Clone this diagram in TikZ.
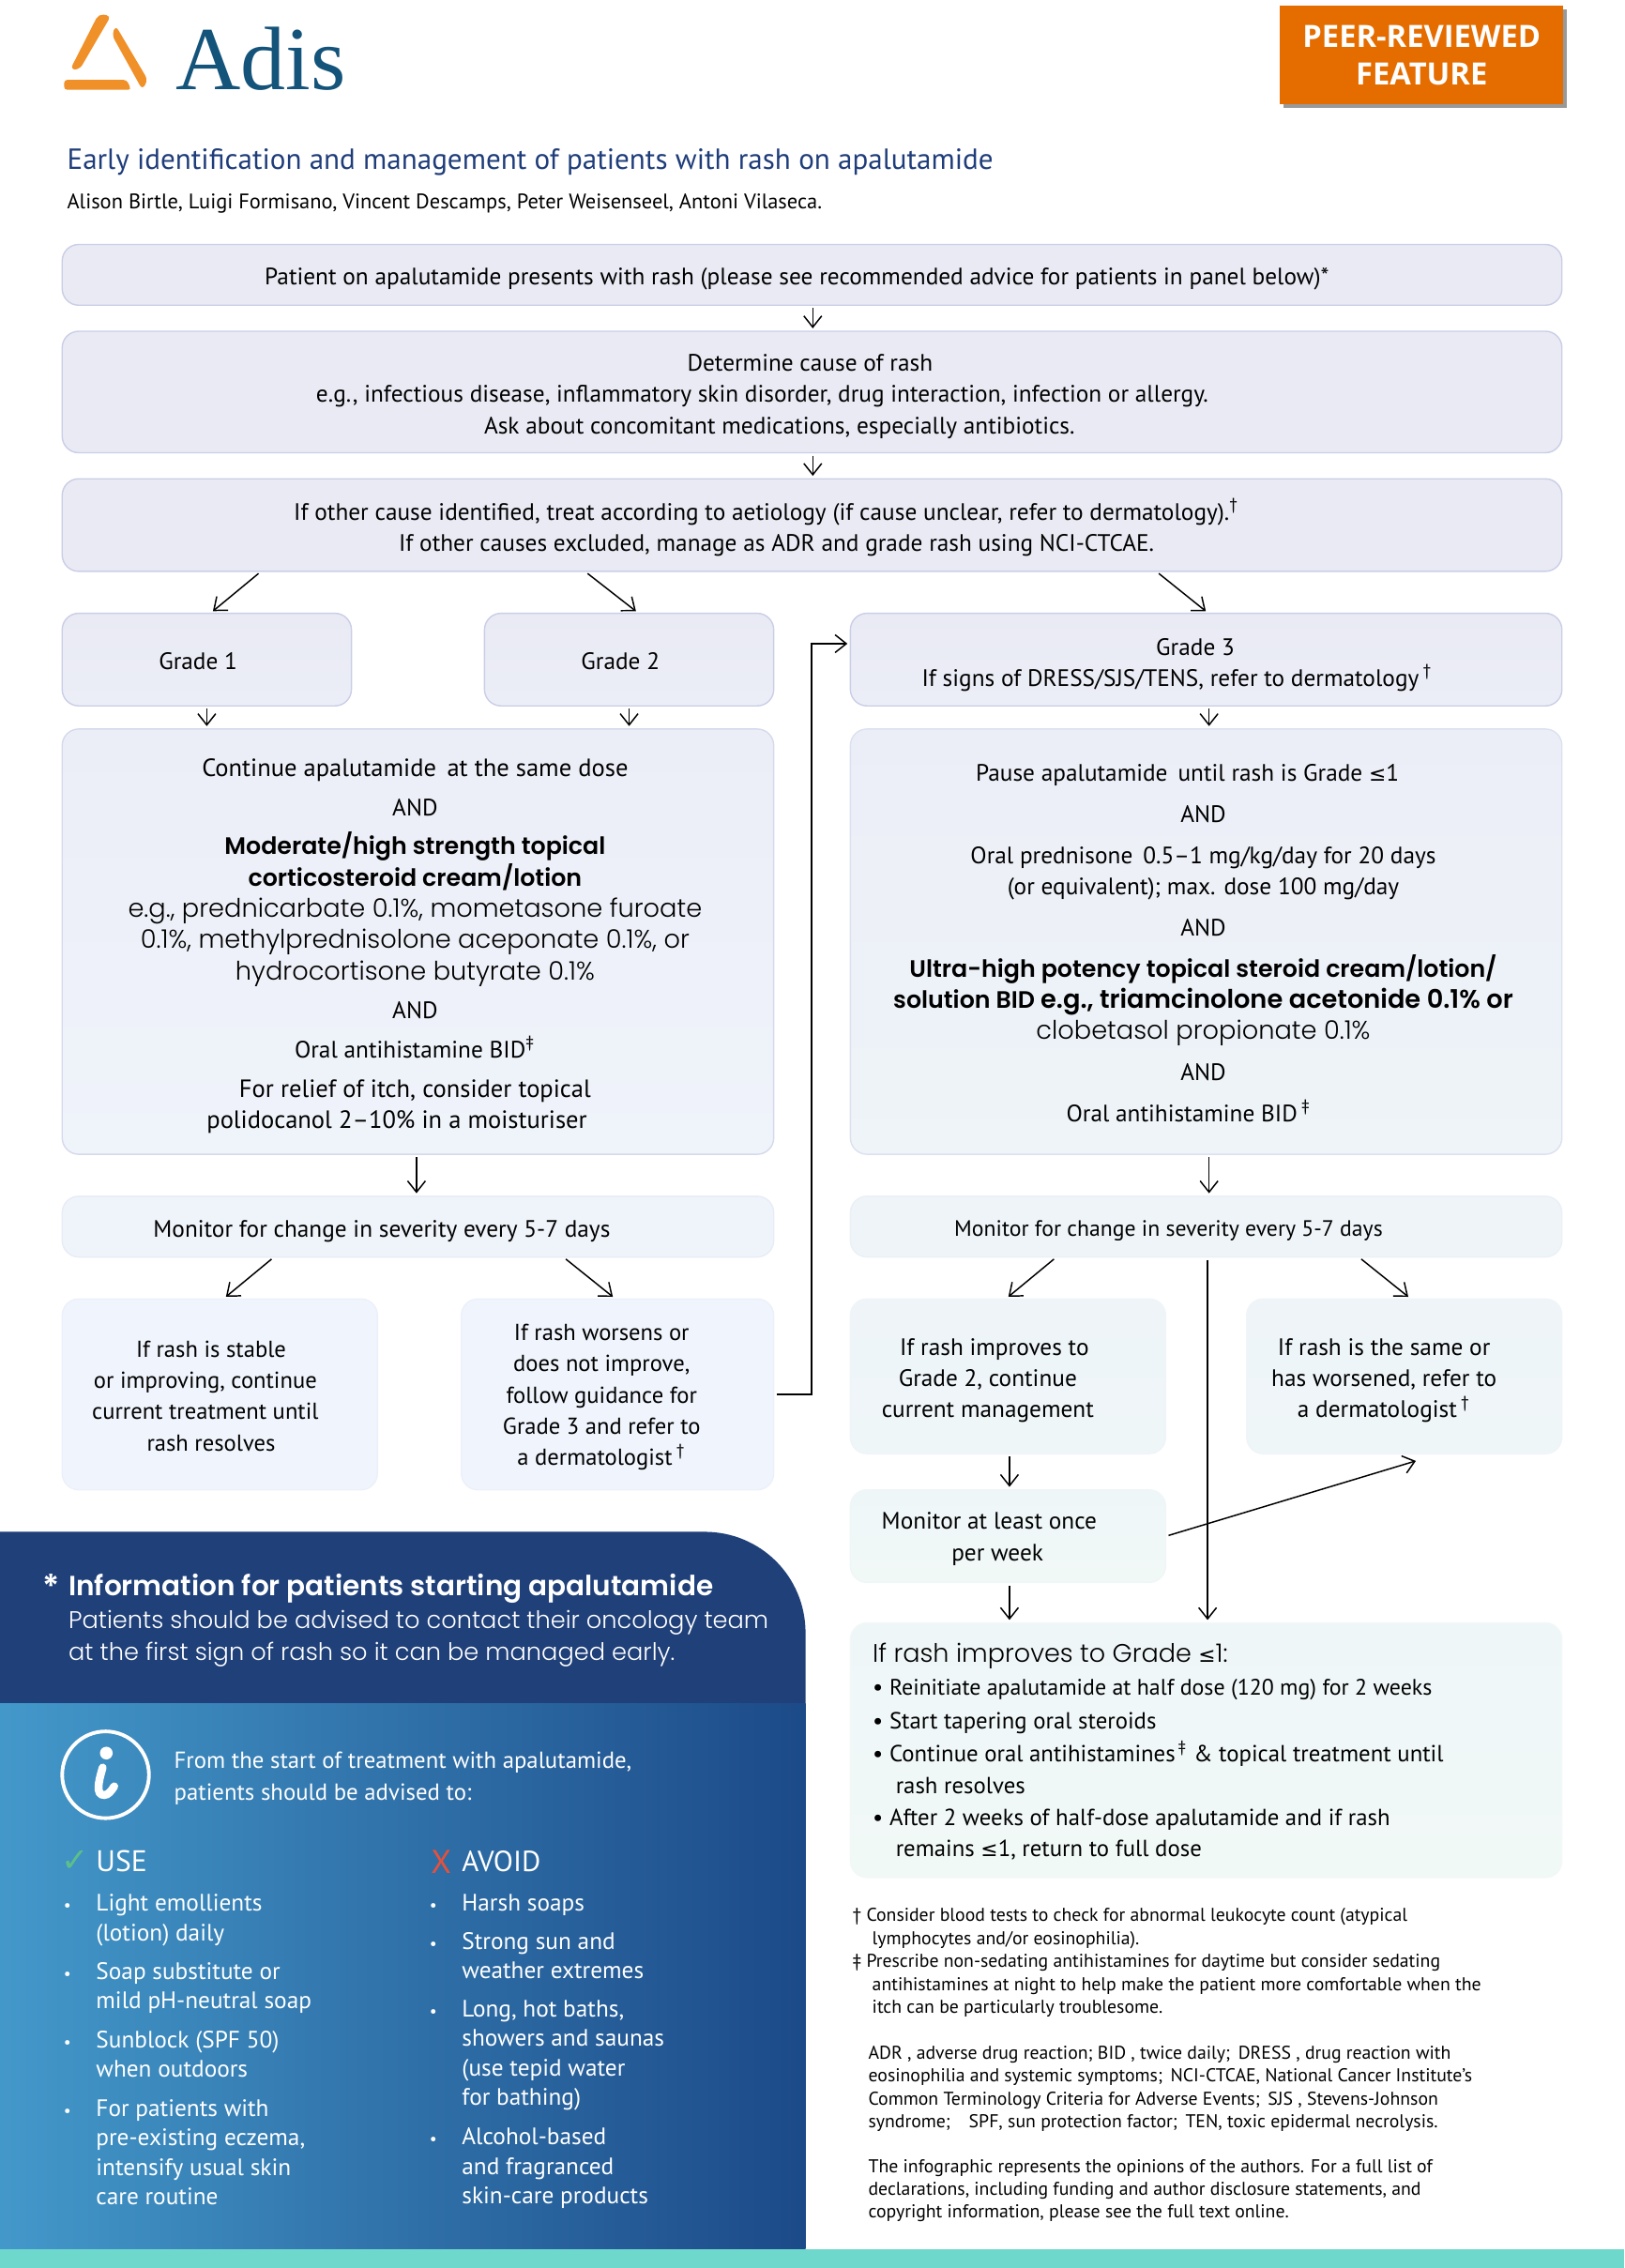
\documentclass[tikz,border=0pt]{standalone}
\usepackage{fontspec}
\setmainfont{PT Sans}
\newfontfamily\geofont{Poppins}[UprightFont=* Light, BoldFont=* SemiBold]
\newfontfamily\peerfont{Open Sans}
\newfontfamily\markfont{DejaVu Sans}
\newfontfamily\adisfont{Liberation Serif}
\usetikzlibrary{arrows.meta,fit,shadows}
\definecolor{adisblue}{HTML}{14537A}
\definecolor{adisorange}{HTML}{F09028}
\definecolor{peerorange}{HTML}{E56D00}
\definecolor{titleblue}{HTML}{1F3D7A}
\definecolor{panelblue}{HTML}{1F4079}
\definecolor{panelleft}{HTML}{4398CA}
\definecolor{panelmid}{HTML}{2F79B0}
\definecolor{panelright}{HTML}{1C4A88}
\definecolor{barteal}{HTML}{6FD8CC}
\definecolor{tickgreen}{HTML}{5CBF8A}
\definecolor{crossred}{HTML}{E8503A}
\definecolor{boxlav}{HTML}{CACEE6}
\definecolor{boxtop}{HTML}{E9EAF4}
\definecolor{boxgrade}{HTML}{ECEEF7}
\definecolor{boxleft}{HTML}{EFF3FA}
\definecolor{boxstable}{HTML}{F0F4FC}
\definecolor{boxsky}{HTML}{EEF4F8}
\definecolor{boxpale}{HTML}{EFF6F8}
\definecolor{boxmint}{HTML}{F1F9F7}
\newcommand{\bodysize}{\fontsize{7.2}{9.47}\selectfont}
\newcommand{\widesize}{\fontsize{7.55}{9.47}\selectfont}
\newcommand{\geobold}{\geofont\bfseries\fontsize{7.2}{9.47}\selectfont}
\newcommand{\geosize}{\geofont\fontsize{7.75}{9.47}\selectfont}
\newcommand{\listdot}{\llap{{\fontsize{5}{5}\selectfont\textbullet}\hspace{7.6pt}}}
\newcommand{\gradele}{{\markfont\fontsize{6.2}{9}\selectfont ≤}}
\tikzset{
    flowbox/.style n args={3}{rounded corners=5pt, draw=#1, line width=0.4pt, top color=#2, bottom color=#3, inner sep=0pt},
    flowtext/.style={align=center, inner sep=0pt, font=\bodysize},
    lefttext/.style={align=left, anchor=west, inner sep=0pt, font=\bodysize},
    footnote/.style={align=left, anchor=west, inner sep=0pt, font=\fontsize{5.62}{6.95}\selectfont},
    listitem/.style={align=left, anchor=west, inner sep=0pt, text=white, font=\fontsize{7.2}{8.95}\selectfont},
    flowarrow/.style={-{Straight Barb[length=3.4pt,width=5.4pt]}, line width=0.42pt, black, shorten >=0.7pt, shorten <=0.7pt}
}
\begin{document}
\begin{tikzpicture}[x=0.015414cm, y=-0.015414cm]
    \useasboundingbox (0,0) rectangle (1123,1568);

    \fill[adisorange, rounded corners=1.5pt] (68.1,9.7) -- (76.8,10.8) -- (55.1,48) -- (48.6,48) -- cycle;
    \fill[adisorange, rounded corners=1.5pt] (80,17.7) -- (102.2,55.2) -- (98.4,62) -- (77.4,24.2) -- cycle;
    \fill[adisorange, rounded corners=1pt] (44.3,55.2) -- (87.6,55.2) -- (90.8,62.1) -- (44.3,62.1) -- cycle;
    \node[anchor=base west, inner sep=0pt, text=adisblue, font=\adisfont\fontsize{27.3}{28}\selectfont] (adis) at (121,62) {Adis};

    \node[fill=peerorange, minimum width=85.9pt, minimum height=29.8pt, align=center, text=white, inner sep=0pt,
        font=\peerfont\bfseries\fontsize{9.3}{11.4}\selectfont, drop shadow={shadow xshift=1.2pt, shadow yshift=-1.2pt, fill=black, opacity=0.4}] (peer) at (983,38) {PEER-REVIEWED\\FEATURE};

    \node[lefttext, text=titleblue, font=\fontsize{8.84}{11}\selectfont] (title) at (46,112) {Early identification and management of patients with rash on apalutamide};
    \node[lefttext, font=\fontsize{6.38}{9}\selectfont] (authors) at (46,141) {Alison Birtle, Luigi Formisano, Vincent Descamps, Peter Weisenseel, Antoni Vilaseca.};

    \node[flowbox={boxlav}{boxtop}{boxtop}, fit={(43,169)(1080,211)}] (patient) {};
    \node[flowtext] (patienttext) at (551,193) {Patient on apalutamide presents with rash (please see recommended advice for patients in panel below)*};
    \node[flowbox={boxlav}{boxtop}{boxtop}, fit={(43,229)(1080,313)}] (cause) {};
    \node[flowtext] (causetext) at (527,274) {\hspace*{29pt}Determine cause of rash\\e.g., infectious disease, inflammatory skin disorder, drug interaction, infection or allergy.\\\hspace*{10.5pt}Ask about concomitant medications, especially antibiotics.};
    \node[flowbox={boxlav}{boxtop}{boxtop}, fit={(43,331)(1080,395)}] (other) {};
    \node[flowtext] (othertext) at (530,364.5) {If other cause identified, treat according to aetiology (if cause unclear, refer to dermatology).\textsuperscript{†}\\\hspace*{6pt}If other causes excluded, manage as ADR and grade rash using NCI-CTCAE.};

    \node[flowbox={boxlav}{boxtop}{boxgrade}, fit={(43,424)(243,488)}] (gradeone) {};
    \node[flowtext] (gradeonetext) at (137,457) {Grade 1};
    \node[flowbox={boxlav}{boxtop}{boxgrade}, fit={(335,424)(535,488)}] (gradetwo) {};
    \node[flowtext] (gradetwotext) at (429,457) {Grade 2};
    \node[flowbox={boxlav}{boxtop}{boxgrade}, fit={(588,424)(1080,488)}] (gradethree) {};
    \node[flowtext] (gradethreetext) at (814,459.5) {\hspace*{11pt}Grade 3\\If signs of DRESS/SJS/TENS, refer to dermatology\,\textsuperscript{†}};

    \node[flowbox={boxlav!70!boxsky}{boxgrade}{boxleft}, fit={(43,504)(535,798)}] (treatleft) {};
    \node[flowtext] (treatlefttext) at (287,654) {{\widesize Continue apalutamide\, at the same dose}\\[2.4pt]
        AND\\[2.4pt]
        {\geobold Moderate/high strength topical}\\
        {\geobold corticosteroid cream/lotion}\\
        {\geosize e.g., prednicarbate 0.1\%, mometasone furoate}\\
        {\geosize 0.1\%, methylprednisolone aceponate 0.1\%, or}\\
        {\geosize hydrocortisone butyrate 0.1\%}\\[2.4pt]
        AND\\[2.4pt]
        Oral antihistamine BID\textsuperscript{‡}\hspace*{10.5pt}\\[2.4pt]
        {\widesize For relief of itch, consider topical}\hspace*{14pt}\\
        {\widesize polidocanol 2–10\% in a moisturiser}\hspace*{11pt}};
    \node[flowbox={boxlav!50!boxsky}{boxgrade}{boxsky}, fit={(588,504)(1080,798)}] (treatright) {};
    \node[flowtext] (treatrighttext) at (832,652) {Pause apalutamide\, until rash is Grade \gradele 1\hspace*{9.6pt}\\[3pt]
        AND\\[3pt]
        Oral prednisone\, 0.5–1 mg/kg/day for 20 days\hspace*{17.5pt}\\
        (or equivalent); max. dose 100 mg/day\hspace*{21pt}\\[3pt]
        AND\\[3pt]
        {\geobold Ultra-high potency topical steroid cream/lotion/}\\
        {\geobold solution BID \geosize e.g., triamcinolone acetonide 0.1\% or}\\
        {\geosize clobetasol propionate 0.1\%}\\[3pt]
        AND\\[3pt]
        Oral antihistamine BID\,\textsuperscript{‡}\hspace*{8.8pt}};

    \node[flowbox={boxleft!80!boxlav}{boxleft}{boxleft}, fit={(43,827)(535,869)}] (monitorleft) {};
    \node[flowtext] (monitorlefttext) at (264,851) {Monitor for change in severity every 5-7 days};
    \node[flowbox={boxsky!90!boxlav}{boxsky}{boxsky}, fit={(588,827)(1080,869)}] (monitorright) {};
    \node[flowtext, font=\fontsize{6.75}{9.47}\selectfont] (monitorrighttext) at (808,851) {Monitor for change in severity every 5-7 days};

    \node[flowbox={boxstable!90!boxlav}{boxstable}{boxstable}, fit={(43,898)(261,1030)}] (stable) {};
    \node[flowtext, font=\fontsize{7}{9.47}\selectfont] (stabletext) at (142,965) {\hspace*{3.5pt}If rash is stable\\or improving, continue\\current treatment until\\\hspace*{3.5pt}rash resolves};
    \node[flowbox={boxstable!90!boxlav}{boxstable}{boxstable}, fit={(319,898)(535,1030)}] (worse) {};
    \node[flowtext, font=\fontsize{7}{9.47}\selectfont] (worsetext) at (416,966) {If rash worsens or\\does not improve,\\follow guidance for\\Grade 3 and refer to\\a dermatologist\,\textsuperscript{†}};

    \node[flowbox={boxsky}{boxsky}{boxpale}, fit={(588,898)(806,1005)}] (improves) {};
    \node[flowtext] (improvestext) at (683,954.5) {\hspace*{4pt}If rash improves to\\Grade 2, continue\\current management};
    \node[flowbox={boxsky}{boxsky}{boxpale}, fit={(862,898)(1080,1005)}] (unchanged) {};
    \node[flowtext] (unchangedtext) at (957,954.5) {If rash is the same or\\has worsened, refer to\\a dermatologist\,\textsuperscript{†}};
    \node[flowbox={boxpale}{boxpale}{boxmint}, fit={(588,1030)(806,1094)}] (weekly) {};
    \node[flowtext] (weeklytext) at (684,1064) {Monitor at least once\\\hspace*{5pt}per week};
    \node[flowbox={boxmint!85!boxsky}{boxpale}{boxmint}, fit={(588,1122)(1080,1298)}] (reinitiate) {};
    \node[lefttext, font=\fontsize{7.05}{9.47}\selectfont] (reinitiatetext) at (603,1211) {{\geosize\fontsize{7.7}{9.47}\selectfont If rash improves to Grade \gradele 1:}\\[0.5pt]
        • {\fontsize{6.8}{9.47}\selectfont Reinitiate apalutamide at half dose (120 mg) for 2 weeks}\\[0.6pt]
        • Start tapering oral steroids\\[0.6pt]
        • Continue oral antihistamines\textsuperscript{\,‡} \& topical treatment until\\
        \hspace*{7pt}rash resolves\\[0.2pt]
        • After 2 weeks of half-dose apalutamide and if rash\\
        \hspace*{7pt}remains \gradele 1, return to full dose};

    \coordinate (weeklyend) at (979,1010);
    \draw[flowarrow] (patient.south -| 562,0) -- (cause.north -| 562,0);
    \draw[flowarrow] (cause.south -| 562,0) -- (other.north -| 562,0);
    \draw[flowarrow] (other.south -| 180,0) -- (gradeone.north -| 146,0);
    \draw[flowarrow] (other.south -| 405,0) -- (gradetwo.north -| 441,0);
    \draw[flowarrow] (other.south -| 800,0) -- (gradethree.north -| 835,0);
    \draw[flowarrow] (gradeone.south -| 143,0) -- (treatleft.north -| 143,0);
    \draw[flowarrow] (gradetwo.south -| 435,0) -- (treatleft.north -| 435,0);
    \draw[flowarrow] (gradethree.south -| 836,0) -- (treatright.north -| 836,0);
    \draw[flowarrow] (treatleft.south -| 288,0) -- (monitorleft.north -| 288,0);
    \draw[flowarrow] (treatright.south -| 836,0) -- (monitorright.north -| 836,0);
    \draw[flowarrow] (monitorleft.south -| 189,0) -- (stable.north -| 155,0);
    \draw[flowarrow] (monitorleft.south -| 390,0) -- (worse.north -| 425,0);
    \draw[flowarrow] (monitorright.south -| 730,0) -- (improves.north -| 696,0);
    \draw[flowarrow] (monitorright.south -| 940,0) -- (unchanged.north -| 975,0);
    \draw[flowarrow] (monitorright.south -| 835,0) -- (reinitiate.north -| 835,0);
    \draw[flowarrow] (improves.south -| 698,0) -- (weekly.north -| 698,0);
    \draw[flowarrow] (weekly.south -| 698,0) -- (reinitiate.north -| 698,0);
    \draw[flowarrow, shorten >=0pt] (weekly.east |- 0,1062) -- (weeklyend);
    \draw[flowarrow] (worse.east) -| (561,445) -- (gradethree.west |- 0,445);

    \node[footnote] (footmarks) at (589,1357) {† Consider blood tests to check for abnormal leukocyte count (atypical\\
        \hspace*{6pt}lymphocytes and/or eosinophilia).\\
        ‡ Prescribe non-sedating antihistamines for daytime but consider sedating\\
        \hspace*{6pt}antihistamines at night to help make the patient more comfortable when the\\
        \hspace*{6pt}itch can be particularly troublesome.};
    \node[footnote] (footabbrev) at (600,1444) {ADR , adverse drug reaction; BID , twice daily;\, DRESS , drug reaction with\\
        eosinophilia and systemic symptoms;\, NCI-CTCAE, National Cancer Institute’s\\
        Common Terminology Criteria for Adverse Events;\, SJS , Stevens-Johnson\\
        syndrome;\quad SPF, sun protection factor;\, TEN, toxic epidermal necrolysis.};
    \node[footnote] (footopinion) at (600,1514.5) {The infographic represents the opinions of the authors. For a full list of\\
        declarations, including funding and author disclosure statements, and\\
        copyright information, please see the full text online.};

    \fill[panelblue] (0,1059) -- (487,1059) .. controls (526,1059) and (557,1090) .. (557,1129) -- (557,1178) -- (0,1178) -- cycle;
    \shade[left color=panelleft, middle color=panelmid, right color=panelright] (0,1178) rectangle (557,1555);
    \fill[barteal] (0,1555) rectangle (1123,1568);

    \node[lefttext, text=white, font=\geofont\bfseries\fontsize{8.4}{10}\selectfont] (infohead) at (47,1098) {Information for patients starting apalutamide};
    \node[anchor=east, inner sep=0pt, text=white, font=\geofont\bfseries\fontsize{10}{10}\selectfont] (infostar) at (42,1097) {*};
    \node[lefttext, text=white, font=\geofont\fontsize{7.3}{9.6}\selectfont] (infobody) at (47,1133) {Patients should be advised to contact their oncology team\\at the first sign of rash so it can be managed early.};

    \draw[white, line width=1.1pt] (73,1227) circle (30);
    \fill[white] (73.5,1212) circle (4.4);
    \draw[white, line width=2.4pt, line cap=round] (71,1222) .. controls (68,1232) and (66,1241) .. (72,1241) .. controls (75,1241) and (77,1238) .. (79,1235);
    \node[lefttext, text=white, font=\fontsize{7.05}{9.47}\selectfont] (advised) at (120,1229.5) {From the start of treatment with apalutamide,\\patients should be advised to:};

    \node[anchor=center, inner sep=0pt, text=tickgreen, font=\markfont\fontsize{10}{10}\selectfont] (usemark) at (52,1287) {✓};
    \node[lefttext, text=white, font=\fontsize{9}{10}\selectfont] (usehead) at (66,1287) {USE};
    \node[anchor=center, inner sep=0pt, text=crossred, font=\fontsize{10}{10}\selectfont] (avoidmark) at (305,1287) {X};
    \node[lefttext, text=white, font=\fontsize{8.8}{10}\selectfont] (avoidhead) at (319,1287) {AVOID};

    \node[listitem] (useone) at (66,1327.5) {\listdot Light emollients\\(lotion) daily};
    \node[listitem] (usetwo) at (66,1374.5) {\listdot Soap substitute or\\mild pH-neutral soap};
    \node[listitem] (usethree) at (66,1420) {\listdot Sunblock (SPF 50)\\when outdoors};
    \node[listitem] (usefour) at (66,1488) {\listdot For patients with\\pre-existing eczema,\\intensify usual skin\\care routine};
    \node[listitem] (avoidone) at (319,1317) {\listdot Harsh soaps};
    \node[listitem] (avoidtwo) at (319,1352) {\listdot Strong sun and\\weather extremes};
    \node[listitem] (avoidthree) at (319,1421) {\listdot Long, hot baths,\\showers and saunas\\(use tepid water\\for bathing)};
    \node[listitem] (avoidfour) at (319,1499) {\listdot Alcohol-based\\and fragranced\\skin-care products};
\end{tikzpicture}
\end{document}
